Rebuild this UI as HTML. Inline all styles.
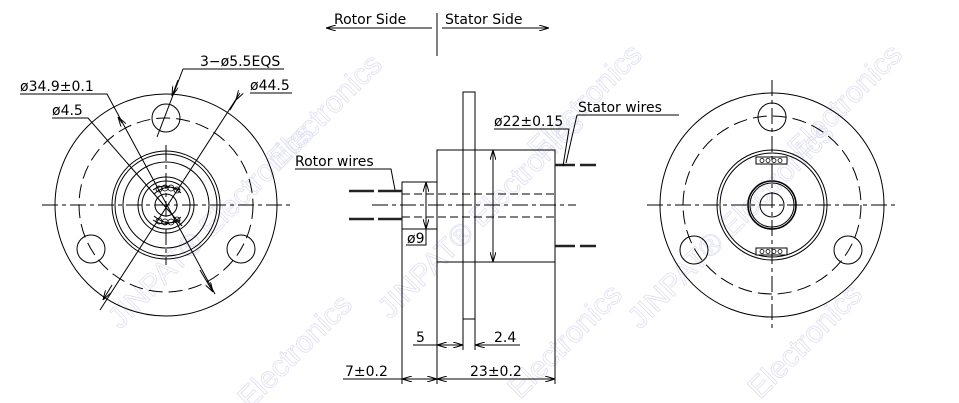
<!DOCTYPE html>
<html><head><meta charset="utf-8"><style>
html,body{margin:0;padding:0;background:#fff;width:959px;height:403px;overflow:hidden}
svg{display:block;overflow:hidden}
text{font-family:"DejaVu Sans","Liberation Sans",sans-serif;font-size:14px;fill:#000}
.wm text{font-family:"Liberation Sans",sans-serif;font-size:30px;fill:none;stroke:#dedef3;stroke-width:0.8}
</style></head><body>
<svg width="959" height="403" viewBox="0 0 959 403" xmlns="http://www.w3.org/2000/svg">
<defs>
<marker id="a" markerWidth="10" markerHeight="6" refX="10" refY="3" orient="auto" markerUnits="userSpaceOnUse"><path d="M0,0 L10,3 L0,6" fill="none" stroke="#000" stroke-width="1"/></marker>
<clipPath id="c"><rect x="0" y="0" width="959" height="403"/></clipPath>
</defs>
<g class="wm" clip-path="url(#c)">
<text x="0" y="0" transform="translate(120,330) rotate(-45)">JINPAT® Electronics</text>
<text x="0" y="0" transform="translate(390,320) rotate(-45)">JINPAT® Electronics</text>
<text x="0" y="0" transform="translate(640,330) rotate(-45)">JINPAT® Electronics</text>
<text x="0" y="0" transform="translate(250,410) rotate(-45)">Electronics</text>
<text x="0" y="0" transform="translate(520,400) rotate(-45)">Electronics</text>
<text x="0" y="0" transform="translate(760,400) rotate(-45)">Electronics</text>
<text x="0" y="0" transform="translate(280,170) rotate(-45)">Electronics</text>
<text x="0" y="0" transform="translate(540,160) rotate(-45)">Electronics</text>
<text x="0" y="0" transform="translate(800,160) rotate(-45)">Electronics</text>
</g>
<g fill="none" stroke="#000" stroke-width="1">
<circle cx="166" cy="205" r="111"/>
<circle cx="166" cy="205" r="87" stroke-dasharray="14,6"/>
<circle cx="166" cy="118" r="14"/>
<circle cx="91" cy="249" r="14"/>
<circle cx="241" cy="249" r="14"/>
<circle cx="166" cy="205" r="54"/>
<circle cx="166" cy="205" r="51"/>
<circle cx="166" cy="205" r="43"/>
<circle cx="166" cy="205" r="28"/>
<circle cx="166" cy="205" r="24"/>
<circle cx="166" cy="205" r="11"/>
<path d="M154,194 Q166,183 180,190 M153,190 Q166,181 181,193"/>
<path d="M154,216 Q166,227 180,220 M153,220 Q166,229 181,217"/>
<g stroke-width="0.8"><circle cx="159" cy="189" r="3"/><circle cx="165" cy="188" r="3"/><circle cx="171" cy="188" r="3"/><circle cx="177" cy="190" r="3"/>
<circle cx="159" cy="221" r="3"/><circle cx="165" cy="222" r="3"/><circle cx="171" cy="222" r="3"/><circle cx="177" cy="220" r="3"/></g>
<path d="M42,205 H290" stroke-dasharray="16,4,4,4"/>
<path d="M166,145 V265" stroke-dasharray="16,4,4,4"/>
<path d="M20,94 H107 L215,294"/>
<path d="M122,123 L118,117" marker-end="url(#a)"/>
<path d="M200,270 L213,292" marker-end="url(#a)"/>
<path d="M52,118 H88 L182,226"/>
<path d="M250,93 H292 M240,93 L100,310"/>
<path d="M236,100 L230,110" marker-start="url(#a)"/>
<path d="M112,285 L103,300" marker-end="url(#a)"/>
<path d="M183,69 H284 M183,69 L157,137"/>
<path d="M178,80 L172,96" marker-end="url(#a)"/>
<path d="M437,13 V56"/>
<path d="M432,28 H326" marker-end="url(#a)"/>
<path d="M442,28 H549" marker-end="url(#a)"/>
<rect x="463" y="92" width="12" height="227"/>
<rect x="437" y="150" width="118" height="112"/>
<rect x="402" y="182" width="35" height="47"/>
<path d="M402,194 H555 M402,217 H555" stroke-dasharray="8,4"/>
<path d="M372,205 H576" stroke-dasharray="16,4,4,4"/>
<g stroke-width="2.5" stroke="#222">
<path d="M349,191 H374 M378,191 H402 M349,219 H374 M378,219 H402"/>
<path d="M555,165 H575 M580,165 H596 M555,246 H575 M580,246 H596"/>
</g>
<path d="M493,150 V262"/>
<path d="M493,158 V150" marker-end="url(#a)"/>
<path d="M493,254 V262" marker-end="url(#a)"/>
<path d="M494,129 H569 L563,166"/>
<path d="M577,115 H679 M577,115 L566,163"/>
<path d="M426,190 V182" marker-end="url(#a)"/>
<path d="M426,221 V229" marker-end="url(#a)"/>
<path d="M426,182 V245 H406"/>
<path d="M295,169 H391 L395,190"/>
<path d="M402,229 V384 M437,262 V384 M463,319 V350 M475,319 V350 M555,262 V384"/>
<path d="M413,345 H463 M475,345 H520"/>
<path d="M447,345 H463" marker-end="url(#a)"/>
<path d="M455,345 H437" marker-end="url(#a)"/>
<path d="M490,345 H475" marker-end="url(#a)"/>
<path d="M343,379 H555"/>
<path d="M420,379 H437" marker-end="url(#a)"/>
<path d="M420,379 H402" marker-end="url(#a)"/>
<path d="M450,379 H437" marker-end="url(#a)"/>
<path d="M540,379 H555" marker-end="url(#a)"/>
<circle cx="772" cy="205" r="112"/>
<circle cx="772" cy="205" r="89" stroke-dasharray="14,6"/>
<circle cx="772" cy="117" r="14"/>
<circle cx="694" cy="250" r="14"/>
<circle cx="848" cy="250" r="14"/>
<circle cx="772" cy="205" r="55"/>
<circle cx="772" cy="205" r="52"/>
<circle cx="772" cy="205" r="24" stroke-width="1.6"/>
<circle cx="772" cy="205" r="22"/>
<circle cx="772" cy="205" r="12"/>
<rect x="756" y="157" width="31" height="7" fill="#fff"/>
<rect x="756" y="248" width="31" height="7" fill="#fff"/>
<g stroke-width="0.8"><circle cx="762" cy="160.5" r="2"/><circle cx="768" cy="160.5" r="2"/><circle cx="774" cy="160.5" r="2"/><circle cx="780" cy="160.5" r="2"/>
<circle cx="762" cy="251.5" r="2"/><circle cx="768" cy="251.5" r="2"/><circle cx="774" cy="251.5" r="2"/><circle cx="780" cy="251.5" r="2"/></g>
<path d="M647,205 H897" stroke-dasharray="16,4,4,4"/>
<path d="M772,80 V330" stroke-dasharray="16,4,4,4"/>
</g>
<text x="334" y="24">Rotor Side</text>
<text x="445" y="24">Stator Side</text>
<text x="20" y="91">ø34.9±0.1</text>
<text x="52" y="115">ø4.5</text>
<text x="250" y="90">ø44.5</text>
<text x="200" y="66">3−ø5.5EQS</text>
<text x="494" y="126">ø22±0.15</text>
<text x="578" y="112">Stator wires</text>
<text x="295" y="166">Rotor wires</text>
<text x="407" y="243">ø9</text>
<text x="416" y="342">5</text>
<text x="494" y="342">2.4</text>
<text x="345" y="376">7±0.2</text>
<text x="470" y="376">23±0.2</text>
</svg>
</body></html>
